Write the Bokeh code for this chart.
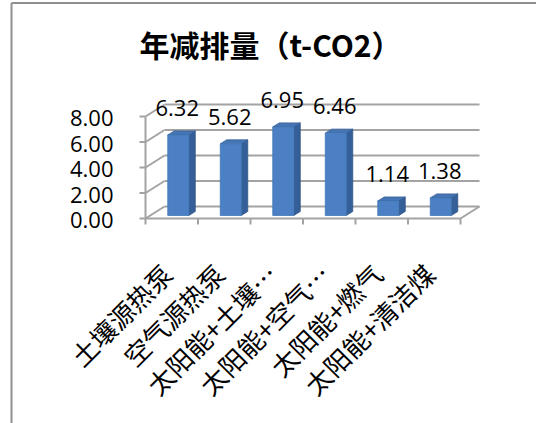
from math import pi

from bokeh.core.properties import value
from bokeh.embed import file_html
from bokeh.models import ColumnDataSource, Range1d
from bokeh.plotting import figure
from bokeh.resources import INLINE

# ---- data -------------------------------------------------------------
title_text = "年减排量（t-CO2）"
categories = ["土壤源热泵", "空气源热泵", "太阳能+土壤…", "太阳能+空气…", "太阳能+燃气", "太阳能+清洁煤"]
reductions = [6.32, 5.62, 6.95, 6.46, 1.14, 1.38]
y_ticks = [0, 2, 4, 6, 8]
y_tick_labels = ["0.00", "2.00", "4.00", "6.00", "8.00"]

# ---- layout -----------------------------------------------------------
W, H = 536, 423
CAT_PX = 52.5      # pixels per category
VAL_PX = 12.75     # pixels per value unit
ORIGIN_X = 145     # front-left corner of the floor (canvas pixels)
ORIGIN_Y = 218

x_range = Range1d(-ORIGIN_X / CAT_PX, (W - ORIGIN_X) / CAT_PX)
y_range = Range1d(-(H - ORIGIN_Y) / VAL_PX, ORIGIN_Y / VAL_PX)


def px_x(n):
    """horizontal pixel distance expressed in x-data units"""
    return n / CAT_PX


def px_y(n):
    """vertical pixel distance expressed in y-data units"""
    return n / VAL_PX


p = figure(width=W, height=H, x_range=x_range, y_range=y_range,
           output_backend="svg", toolbar_location=None, min_border=0)
p.axis.visible = False
p.grid.visible = False
p.outline_line_color = None
p.background_fill_color = "white"
p.border_fill_color = "white"

GRID = "#a3a3a3"
n = len(categories)
y_max = y_ticks[-1]
wall_dx, wall_dy = px_x(19), px_y(12)

# chart-area border (top and left edges)
left_x = x_range.start + px_x(11)
top_y = y_range.end - px_y(2.5)
p.segment(x0=[left_x, left_x], y0=[top_y, top_y], x1=[left_x, x_range.end], y1=[y_range.start, top_y],
          line_color="#8f8f8f", line_width=2)

# back wall gridlines
p.segment(x0=[wall_dx] * len(y_ticks), y0=[v + wall_dy for v in y_ticks],
          x1=[n + wall_dx] * len(y_ticks), y1=[v + wall_dy for v in y_ticks],
          line_color=GRID, line_width=2)
# side wall diagonals
p.segment(x0=[0] * len(y_ticks), y0=y_ticks,
          x1=[wall_dx] * len(y_ticks), y1=[v + wall_dy for v in y_ticks],
          line_color=GRID, line_width=2)
# floor front edge, right edge, value axis line
p.segment(x0=[0, n, 0], y0=[0, 0, 0], x1=[n, n + wall_dx, 0], y1=[0, wall_dy, y_max],
          line_color=GRID, line_width=2)
# value axis ticks
p.segment(x0=[-px_x(6)] * len(y_ticks), y0=y_ticks, x1=[0] * len(y_ticks), y1=y_ticks,
          line_color=GRID, line_width=2)
# category ticks
p.segment(x0=list(range(n + 1)), y0=[0] * (n + 1), x1=list(range(n + 1)), y1=[-px_y(6)] * (n + 1),
          line_color=GRID, line_width=2)

# ---- 3D columns -------------------------------------------------------
base = px_y(3)
bar_dx, bar_dy = px_x(6.5), px_y(4)
fronts = dict(left=[], right=[], bottom=[], top=[])
side_xs, side_ys, top_xs, top_ys = [], [], [], []
for i, v in enumerate(reductions):
    left = i + 0.5 - px_x(4)
    right = left + px_x(21)
    b, t = base, v + base
    fronts["left"].append(left)
    fronts["right"].append(right)
    fronts["bottom"].append(b)
    fronts["top"].append(t)
    side_xs.append([right, right + bar_dx, right + bar_dx, right])
    side_ys.append([b, b + bar_dy, t + bar_dy, t])
    top_xs.append([left, right, right + bar_dx, left + bar_dx])
    top_ys.append([t, t, t + bar_dy, t + bar_dy])

p.patches(side_xs, side_ys, fill_color="#355f98", line_color="#2f5487", line_width=0.8)
p.patches(top_xs, top_ys, fill_color="#4675b3", line_color="#36609a", line_width=0.8)
p.quad(source=ColumnDataSource(fronts), left="left", right="right", bottom="bottom", top="top",
       fill_color="#4b80c4", line_color="#4378b8", line_width=0.8)

# ---- texts ------------------------------------------------------------
NUM_FONT = value("Open Sans")
CJK_FONT = value("Noto Sans CJK SC")

# data labels
p.text(x=[i + 0.5 for i in range(n)], y=[v + base for v in reductions],
       text=[f"{v:.2f}" for v in reductions], x_offset=5.5, y_offset=-27,
       text_font=NUM_FONT, text_font_size="22px", text_color="black",
       text_align="center", text_baseline="middle")

# value axis labels
p.text(x=[-px_x(32)] * len(y_ticks), y=y_ticks, text=y_tick_labels, y_offset=1.5,
       text_font=NUM_FONT, text_font_size="22px", text_color="black",
       text_align="right", text_baseline="middle")

# category labels
p.text(x=[i + 0.5 for i in range(n)], y=[0] * n, text=categories,
       x_offset=-5, y_offset=50, angle=pi / 4,
       text_font=CJK_FONT, text_font_size="26px", text_color="black",
       text_align="right", text_baseline="middle")

# chart title
p.text(x=[x_range.start + px_x(270)], y=[y_range.end - px_y(43)], text=[title_text],
       text_font=CJK_FONT, text_font_size="30px", text_font_style="bold",
       text_color="black", text_align="center", text_baseline="middle")

open("out.html", "w").write(file_html(p, INLINE))
